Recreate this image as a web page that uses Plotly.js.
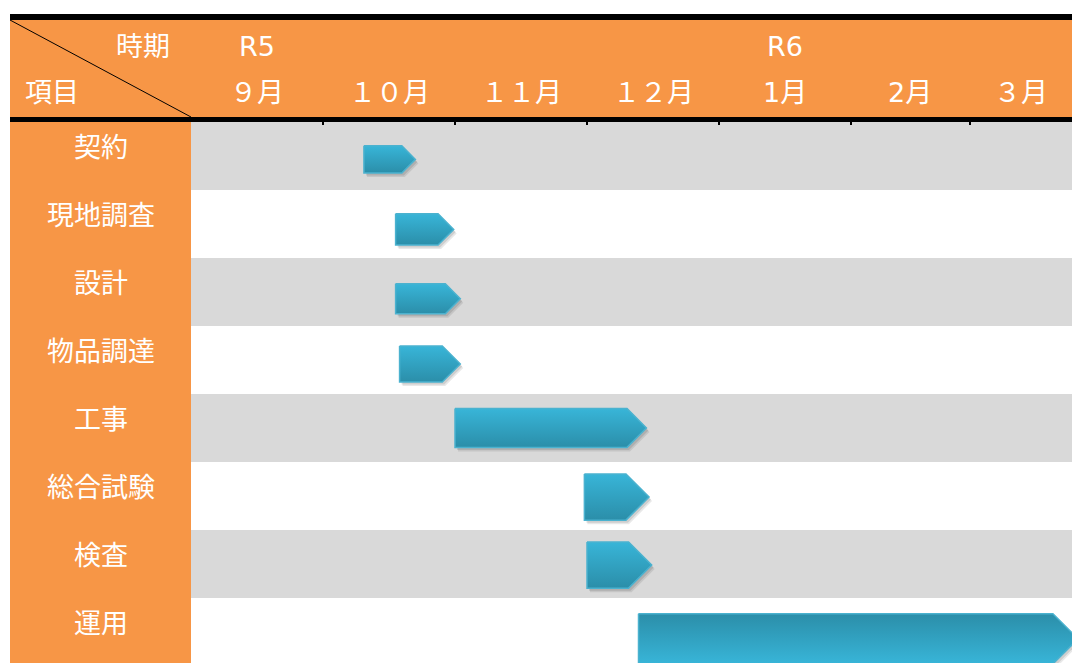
<!DOCTYPE html>
<html>
<head>
<meta charset="utf-8">
<script src="https://cdn.plot.ly/plotly-3.0.1.min.js"></script>
<style>html,body{margin:0;padding:0;background:#fff;}#chart{width:1072px;height:663px;}</style>
</head>
<body>
<div id="chart"></div>
<script>
// ---- data ----
const tasks = ['契約','現地調査','設計','物品調達','工事','総合試験','検査','運用'];
const barStart = [1.31, 1.55, 1.55, 1.58, 2.00, 2.98, 3.00, 3.39];   // in month columns from 9月 start
const barEnd   = [1.70, 1.99, 2.04, 2.04, 3.45, 3.47, 3.49, 6.72];   // arrow tip
const barThick = [0.40, 0.46, 0.44, 0.53, 0.57, 0.68, 0.68, 0.74];   // fraction of row
const barShift = [0.05, 0.08, 0.10, 0.06, 0.00, 0.015, 0.015, 0.10]; // fraction of row
const months = ['９月','１０月','１１月','１２月','1月','2月','３月'];
const monthEdges = [0, 1, 2, 3, 4, 5, 5.9, 6.674];
const eras = ['R5','R6'];
const eraMonthIndex = [0, 4];

// ---- geometry helpers ----
const W = 1072, H = 663, L = 191, T = 122;
const PW = W - L, PH = H - T;
const ROWPX = 68;
const xMax = monthEdges[monthEdges.length - 1];
const pxPerX = PW / xMax;
const yTopRange = -0.5, yBotRange = -0.5 + PH / ROWPX;
const px = v => (v - L) / PW;
const py = v => (H - v) / PH;

const ORANGE = '#f79646';
const GRAY = '#d9d9d9';
const LIGHT = '#38b5d8';
const DARK = '#2b8ea9';

const traces = [];
tasks.forEach((t, i) => {
  const yc = i + barShift[i];
  const th = barThick[i];
  const y0 = yc - th / 2, y1 = yc + th / 2;
  const tip = (th * ROWPX / 2) / pxPerX;
  const s = barStart[i], e = barEnd[i];
  const xs = [s, e - tip, e, e - tip, s, s];
  const ys = [y0, y0, yc, y1, y1, y0];
  [[3, 4, 0.09], [2, 2.5, 0.11]].forEach(([dx, dy, a]) => {
    traces.push({
      type: 'scatter', mode: 'lines', fill: 'toself',
      x: xs.map(v => v + dx / pxPerX), y: ys.map(v => v + dy / ROWPX),
      line: {width: 0, color: 'rgba(0,0,0,0)'},
      fillcolor: `rgba(0,0,0,${a})`, hoverinfo: 'skip', showlegend: false
    });
  });
  const rev = (i === tasks.length - 1);
  traces.push({
    type: 'scatter', mode: 'lines', fill: 'toself',
    x: xs, y: ys,
    line: {width: 1.5, color: '#4bb2cf'},
    fillcolor: LIGHT,
    fillgradient: {
      type: 'vertical', start: y0, stop: y1,
      colorscale: rev ? [[0, DARK], [1, LIGHT]] : [[0, LIGHT], [1, DARK]]
    },
    hoverinfo: 'skip', showlegend: false, name: t
  });
});

const shapes = [];
tasks.forEach((t, i) => {
  if (i % 2 === 0) {
    shapes.push({type: 'rect', xref: 'paper', yref: 'y', x0: 0, x1: 1, y0: i - 0.5, y1: i + 0.5,
      fillcolor: GRAY, line: {width: 0}, layer: 'below'});
  }
});
shapes.push({type: 'rect', xref: 'paper', yref: 'paper', x0: px(10), x1: 1, y0: py(117), y1: py(20), fillcolor: ORANGE, line: {width: 0}});
shapes.push({type: 'rect', xref: 'paper', yref: 'paper', x0: px(10), x1: 0, y0: -0.01, y1: py(122), fillcolor: ORANGE, line: {width: 0}});
shapes.push({type: 'rect', xref: 'paper', yref: 'paper', x0: px(10), x1: 1, y0: py(20), y1: py(14), fillcolor: '#000', line: {width: 0}});
shapes.push({type: 'rect', xref: 'paper', yref: 'paper', x0: px(10), x1: 1, y0: py(122), y1: py(117), fillcolor: '#000', line: {width: 0}});
shapes.push({type: 'line', xref: 'paper', yref: 'paper', x0: px(10), y0: py(20), x1: px(191), y1: py(117), line: {color: '#000', width: 1}});

const annotations = [];
const whiteFont = {family: '"DejaVu Sans", "Noto Sans CJK JP", sans-serif', size: 27, color: '#ffffff'};
tasks.forEach((t, i) => {
  annotations.push({xref: 'paper', yref: 'y', x: px(100.5), y: i, yshift: 9, text: t, showarrow: false,
    font: whiteFont, xanchor: 'center', yanchor: 'middle'});
});
months.forEach((m, i) => {
  annotations.push({xref: 'x', yref: 'paper', x: (monthEdges[i] + monthEdges[i + 1]) / 2, y: py(92.5), text: m,
    showarrow: false, font: whiteFont, xanchor: 'center', yanchor: 'middle'});
});
eras.forEach((e, k) => {
  const i = eraMonthIndex[k];
  annotations.push({xref: 'x', yref: 'paper', x: (monthEdges[i] + monthEdges[i + 1]) / 2, y: py(46), text: e,
    showarrow: false, font: whiteFont, xanchor: 'center', yanchor: 'middle'});
});
annotations.push({xref: 'paper', yref: 'paper', x: px(142.5), y: py(46), text: '時期', showarrow: false, font: whiteFont, xanchor: 'center', yanchor: 'middle'});
annotations.push({xref: 'paper', yref: 'paper', x: px(52), y: py(92.5), text: '項目', showarrow: false, font: whiteFont, xanchor: 'center', yanchor: 'middle'});

const layout = {
  width: W, height: H,
  margin: {l: L, r: 0, t: T, b: 0, pad: 0},
  paper_bgcolor: '#ffffff', plot_bgcolor: '#ffffff',
  showlegend: false,
  xaxis: {range: [0, xMax], side: 'top', showgrid: false, zeroline: false, showline: false,
    showticklabels: false, tickvals: monthEdges.slice(1, -1), ticks: 'inside', ticklen: 3, tickwidth: 2, tickcolor: '#000', fixedrange: true},
  yaxis: {range: [yBotRange, yTopRange], showgrid: false, zeroline: false, showline: false,
    showticklabels: false, ticks: '', fixedrange: true},
  shapes: shapes,
  annotations: annotations
};

Plotly.newPlot('chart', traces, layout, {displayModeBar: false, staticPlot: true});
</script>
</body>
</html>
